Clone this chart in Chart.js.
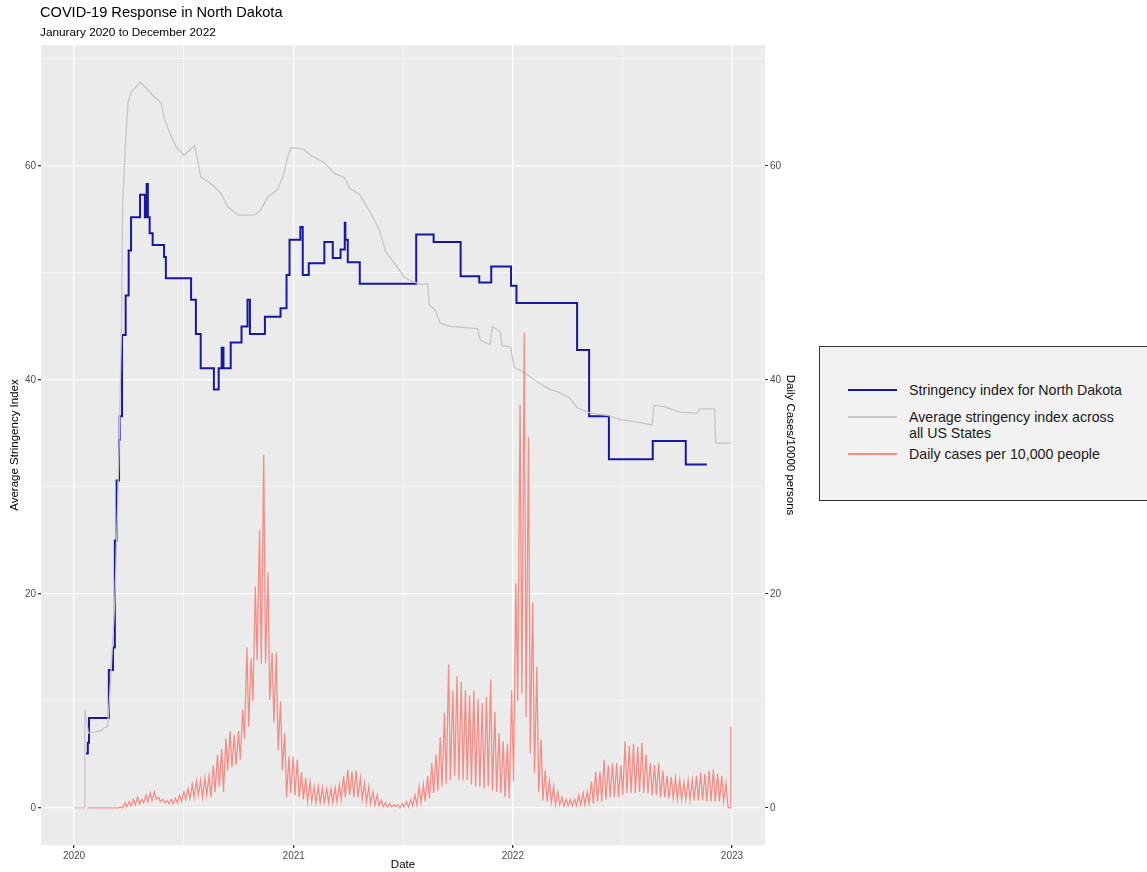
<!DOCTYPE html>
<html>
<head>
<meta charset="utf-8">
<script src="https://cdn.jsdelivr.net/npm/chart.js@4.4.1/dist/chart.umd.min.js"></script>
<style>
  body { margin: 0; background: #fff; font-family: "Liberation Sans", Arial, sans-serif; }
  #wrap { position: relative; width: 1147px; height: 872px; overflow: hidden; }
  #chart { position: absolute; left: 0; top: 0; }
  .title { position: absolute; left: 40px; top: 4px; font-size: 14.6px; color: #000; }
  .subtitle { position: absolute; left: 40px; top: 25px; font-size: 11.8px; color: #000; }
  #legend { position: absolute; left: 819px; top: 346px; width: 340px; height: 153px;
            border: 1px solid #333; background: #F2F2F2; }
  .key { position: absolute; left: 28px; width: 49px; height: 2px; }
  .lab { position: absolute; left: 89px; font-size: 14.2px; color: #1a1a1a; line-height: 16px; }
</style>
</head>
<body>
<div id="wrap">
  <canvas id="chart" width="1147" height="872"></canvas>
  <div class="title">COVID-19 Response in North Dakota</div>
  <div class="subtitle">Janurary 2020 to December 2022</div>
  <div id="legend"></div>
</div>
<script>
// Axis ticks (days since 2020-01-01)
const xTickDays = [0, 366, 731, 1096];
const xTickLabels = ['2020', '2021', '2022', '2023'];
const xMinorDays = [183, 548, 913];
const yTicks = [0, 20, 40, 60];
const yMinor = [10, 30, 50, 70];

// Stringency index for North Dakota (change points, stepped)
const ndDays = [20, 23, 25, 58, 65, 68, 71, 75, 76, 80, 86, 91, 95, 110, 118, 121, 123, 126, 131, 150,
  153, 195, 203, 211, 233, 241, 246, 249, 261, 279, 289, 293, 318, 344, 354, 359, 377, 381, 391, 417,
  431, 444, 451, 452, 456, 476, 570, 599, 644, 675, 695, 728, 737, 838, 858, 891, 964, 1019, 1054];
const ndIndex = [5.1, 6.1, 8.4, 12.9, 15.0, 25.0, 30.6, 34.4, 36.6, 44.2, 47.9, 52.1, 55.2, 57.3, 55.2, 58.3, 55.2, 53.7, 52.6, 51.5,
  49.5, 47.5, 44.3, 41.1, 39.1, 41.1, 43.0, 41.1, 43.5, 45.0, 47.5, 44.3, 45.9, 46.7, 49.8, 53.1, 54.3, 49.8, 50.9, 52.9,
  51.4, 52.2, 54.7, 53.1, 51.0, 49.0, 53.6, 52.9, 49.7, 49.1, 50.6, 48.8, 47.2, 42.8, 36.6, 32.6, 34.3, 32.1, 32.1];

// Average stringency index across all US states
const usDays = [0, 17, 18, 24, 45, 50, 56, 61, 68, 73, 76, 79, 81, 85, 90, 95, 110, 120, 131, 145,
  151, 161, 170, 183, 201, 211, 231, 244, 256, 273, 301, 311, 323, 339, 348, 356, 361, 381, 394, 417,
  434, 451, 459, 476, 494, 509, 519, 534, 550, 560, 577, 589, 592, 602, 610, 627, 650, 672, 677, 693,
  697, 710, 713, 727, 733, 750, 772, 793, 805, 826, 838, 860, 888, 910, 933, 963, 966, 983, 1009, 1038,
  1043, 1067, 1069, 1095];
const usIndex = [0, 0, 9.2, 7.0, 7.2, 7.5, 7.6, 12.0, 19.4, 28.8, 36.3, 44.7, 56.4, 61.5, 65.9, 66.9, 67.8, 67.3, 66.6, 65.9,
  64.3, 62.9, 61.8, 61.0, 61.9, 59.0, 58.2, 57.5, 56.2, 55.4, 55.4, 55.9, 57.1, 57.8, 59.0, 60.8, 61.7, 61.6, 61.0, 60.3,
  59.3, 58.9, 57.9, 57.3, 55.6, 54.0, 52.0, 50.9, 49.6, 49.3, 48.9, 49.0, 47.0, 46.5, 45.3, 45.0, 44.9, 44.8, 43.7, 43.3,
  45.0, 44.5, 43.2, 43.1, 41.2, 40.7, 39.8, 39.1, 38.9, 38.3, 37.4, 36.9, 36.7, 36.3, 36.1, 35.8, 37.6, 37.5, 37.0, 36.9,
  37.3, 37.3, 34.1, 34.1];

// Daily cases per 10,000 people: weekly high / low, starting at week 3
const casesFirstWeek = 3;
const casesHigh = [
  0, 0, 0, 0, 0, 0, 0, 0, 0.1, 0.5,
  0.6, 0.8, 1.0, 0.8, 1.2, 1.4, 1.5, 1.0, 0.8, 0.7,
  0.8, 0.9, 1.2, 1.5, 1.8, 2.2, 2.5, 2.6, 2.8, 3.0,
  4.0, 5.0, 5.5, 6.5, 7.2, 6.8, 7.2, 9.2, 15.0, 14.0,
  20.7, 26.0, 33.0, 22.0, 14.5, 14.5, 10.0, 7.0, 4.8, 4.8,
  4.5, 3.3, 2.8, 2.4, 2.0, 2.0, 1.9, 1.8, 1.8, 1.9,
  2.2, 3.0, 3.6, 3.4, 3.5, 2.8, 2.3, 2.0, 1.5, 1.2,
  0.7, 0.5, 0.4, 0.3, 0.3, 0.4, 0.6, 0.8, 1.2, 2.0,
  2.2, 3.0, 4.2, 5.0, 6.6, 8.9, 13.4, 11.0, 12.3, 11.8,
  11.0, 10.5, 11.0, 10.2, 9.8, 10.4, 12.0, 9.0, 7.0, 6.2,
  6.0, 11.0, 21.0, 37.7, 44.4, 34.7, 19.2, 13.2, 6.4, 3.5,
  2.5, 2.0, 1.5, 1.0, 0.8, 0.8, 0.8, 1.2, 1.4, 1.5,
  2.5, 3.4, 3.4, 4.5, 4.0, 4.2, 4.2, 4.0, 6.2, 5.8,
  6.0, 5.7, 6.1, 5.0, 4.2, 4.0, 4.2, 3.5, 3.0, 2.9,
  2.8, 2.6, 2.4, 2.6, 2.6, 3.0, 3.3, 3.2, 3.5, 3.6,
  3.2, 3.0, 2.3];
const casesLow = [
  0, 0, 0, 0, 0, 0, 0, 0, 0, 0.1,
  0.2, 0.3, 0.4, 0.5, 0.6, 0.7, 0.8, 0.6, 0.5, 0.4,
  0.4, 0.5, 0.6, 0.8, 0.9, 1.0, 1.2, 1.0, 1.2, 1.0,
  1.5, 2.0, 1.5, 3.5, 3.8, 4.0, 4.5, 6.5, 7.6, 10.0,
  13.8, 13.5, 13.5, 10.1, 8.0, 5.4, 3.5, 1.0, 1.4, 1.2,
  1.0, 0.8, 0.6, 0.6, 0.5, 0.5, 0.5, 0.5, 0.5, 0.6,
  0.8, 1.0, 1.2, 1.0, 1.0, 0.8, 0.5, 0.4, 0.3, 0.2,
  0.1, 0.1, 0.1, 0.1, 0, 0.1, 0.1, 0.2, 0.3, 0.5,
  0.6, 0.9, 1.4, 1.6, 2.0, 2.3, 2.6, 3.0, 2.6, 2.6,
  2.6, 2.2, 2.0, 2.0, 1.8, 2.0, 1.6, 1.5, 1.4, 1.0,
  0.9, 2.5, 10.0, 10.7, 8.5, 5.1, 3.3, 1.5, 0.7, 0.6,
  0.5, 0.3, 0.3, 0.2, 0.2, 0.2, 0.2, 0.3, 0.3, 0.4,
  0.4, 0.6, 0.6, 0.8, 1.0, 1.0, 1.0, 1.2, 1.4, 1.4,
  1.4, 1.5, 1.4, 1.4, 1.2, 1.2, 1.0, 1.0, 0.9, 0.9,
  0.8, 0.8, 0.8, 0.8, 0.7, 0.7, 0.7, 0.6, 0.6, 0.6,
  0.6, 0.6, 0.3];
const casesTailDays = [1090, 1093, 1094];
const casesTailValues = [0, 0, 7.6];

const seriesNames = ['Stringency index for North Dakota', 'Average stringency index across all US States', 'Daily cases per 10,000 people'];
const colors = { nd: '#1717A6', us: '#C6C6C6', cases: 'rgba(248, 118, 109, 0.8)' };

// build point lists
const ndPoints = ndDays.map((d, i) => ({ x: d, y: ndIndex[i] }));
const usPoints = usDays.map((d, i) => ({ x: d, y: usIndex[i] }));
const casePoints = [];
casesHigh.forEach((v, i) => {
    const w = casesFirstWeek + i;
    casePoints.push({ x: w * 7 + 1, y: v }, { x: w * 7 + 4, y: casesLow[i] });
});
casesTailDays.forEach((d, i) => casePoints.push({ x: d, y: casesTailValues[i] }));

const tickFont = { family: '"Liberation Sans", Arial, sans-serif', size: 10 };
const titleFont = { family: '"Liberation Sans", Arial, sans-serif', size: 11.5 };

function setTicks(major, minor) {
    return scale => {
        scale.ticks = major.concat(minor).sort((a, b) => a - b).map(v => ({ value: v }));
    };
}
function gridWidth(major) {
    return ctx => (ctx.tick && major.includes(ctx.tick.value)) ? 1.3 : 0.6;
}
function tickColor(major) {
    return ctx => (ctx.tick && major.includes(ctx.tick.value)) ? '#333333' : 'rgba(0,0,0,0)';
}

const panelBg = {
    id: 'panelBg',
    beforeDraw(chart) {
        const a = chart.chartArea;
        const c = chart.ctx;
        c.save();
        c.fillStyle = '#EBEBEB';
        c.fillRect(a.left, a.top, a.right - a.left, a.bottom - a.top);
        c.restore();
    }
};

new Chart(document.getElementById('chart'), {
    type: 'line',
    data: {
        datasets: [
            { label: seriesNames[2], data: casePoints, borderColor: colors.cases, borderWidth: 1.3, pointRadius: 0, tension: 0 },
            { label: seriesNames[1], data: usPoints, borderColor: colors.us, borderWidth: 1.3, pointRadius: 0, tension: 0 },
            { label: seriesNames[0], data: ndPoints, borderColor: colors.nd, borderWidth: 2, pointRadius: 0, stepped: true }
        ]
    },
    options: {
        responsive: false,
        animation: false,
        layout: { padding: { top: 45, right: 349, bottom: 0, left: 0 } },
        plugins: {
            legend: { display: false },
            tooltip: { enabled: false }
        },
        scales: {
            x: {
                type: 'linear',
                min: -55,
                max: 1151,
                afterBuildTicks: setTicks(xTickDays, xMinorDays),
                afterFit: s => { s.height = 27; },
                border: { display: false },
                grid: { color: '#FFFFFF', lineWidth: gridWidth(xTickDays), tickColor: tickColor(xTickDays), tickLength: 3 },
                ticks: {
                    autoSkip: false, maxRotation: 0, padding: 2, color: '#4D4D4D', font: tickFont,
                    callback: v => { const i = xTickDays.indexOf(v); return i >= 0 ? xTickLabels[i] : ''; }
                },
                title: { display: true, text: 'Date', color: '#000', font: titleFont, padding: { top: 0, bottom: 0 } }
            },
            y: {
                position: 'left',
                min: -3.46,
                max: 71.3,
                afterBuildTicks: setTicks(yTicks, yMinor),
                afterFit: s => { s.width = 41; },
                border: { display: false },
                grid: { color: '#FFFFFF', lineWidth: gridWidth(yTicks), tickColor: tickColor(yTicks), tickLength: 3 },
                ticks: {
                    autoSkip: false, padding: 2, color: '#4D4D4D', font: tickFont,
                    callback: v => yTicks.includes(v) ? String(v) : ''
                },
                title: { display: true, text: 'Average Stringency Index', color: '#000', font: titleFont, padding: { top: 8, bottom: 0 } }
            },
            y1: {
                position: 'right',
                min: -3.46,
                max: 71.3,
                afterBuildTicks: setTicks(yTicks, yMinor),
                afterFit: s => { s.width = 33; },
                border: { display: false },
                grid: { drawOnChartArea: false, tickColor: tickColor(yTicks), tickLength: 3 },
                ticks: {
                    autoSkip: false, padding: 2, color: '#4D4D4D', font: tickFont,
                    callback: v => yTicks.includes(v) ? String(v) : ''
                },
                title: { display: true, text: 'Daily Cases/10000 persons', color: '#000', font: titleFont, padding: { top: 1, bottom: 0 } }
            }
        }
    },
    plugins: [panelBg]
});

// legend box
const legend = document.getElementById('legend');
const legendRows = [
    { color: colors.nd, lineY: 42, textY: 35, text: 'Stringency index for North Dakota' },
    { color: colors.us, lineY: 69, textY: 62, text: 'Average stringency index across<br>all US States' },
    { color: colors.cases, lineY: 106, textY: 99, text: 'Daily cases per 10,000 people' }
];
legendRows.forEach(r => {
    const k = document.createElement('div');
    k.className = 'key';
    k.style.top = r.lineY + 'px';
    k.style.background = r.color;
    legend.appendChild(k);
    const t = document.createElement('div');
    t.className = 'lab';
    t.style.top = r.textY + 'px';
    t.innerHTML = r.text;
    legend.appendChild(t);
});
</script>
</body>
</html>
